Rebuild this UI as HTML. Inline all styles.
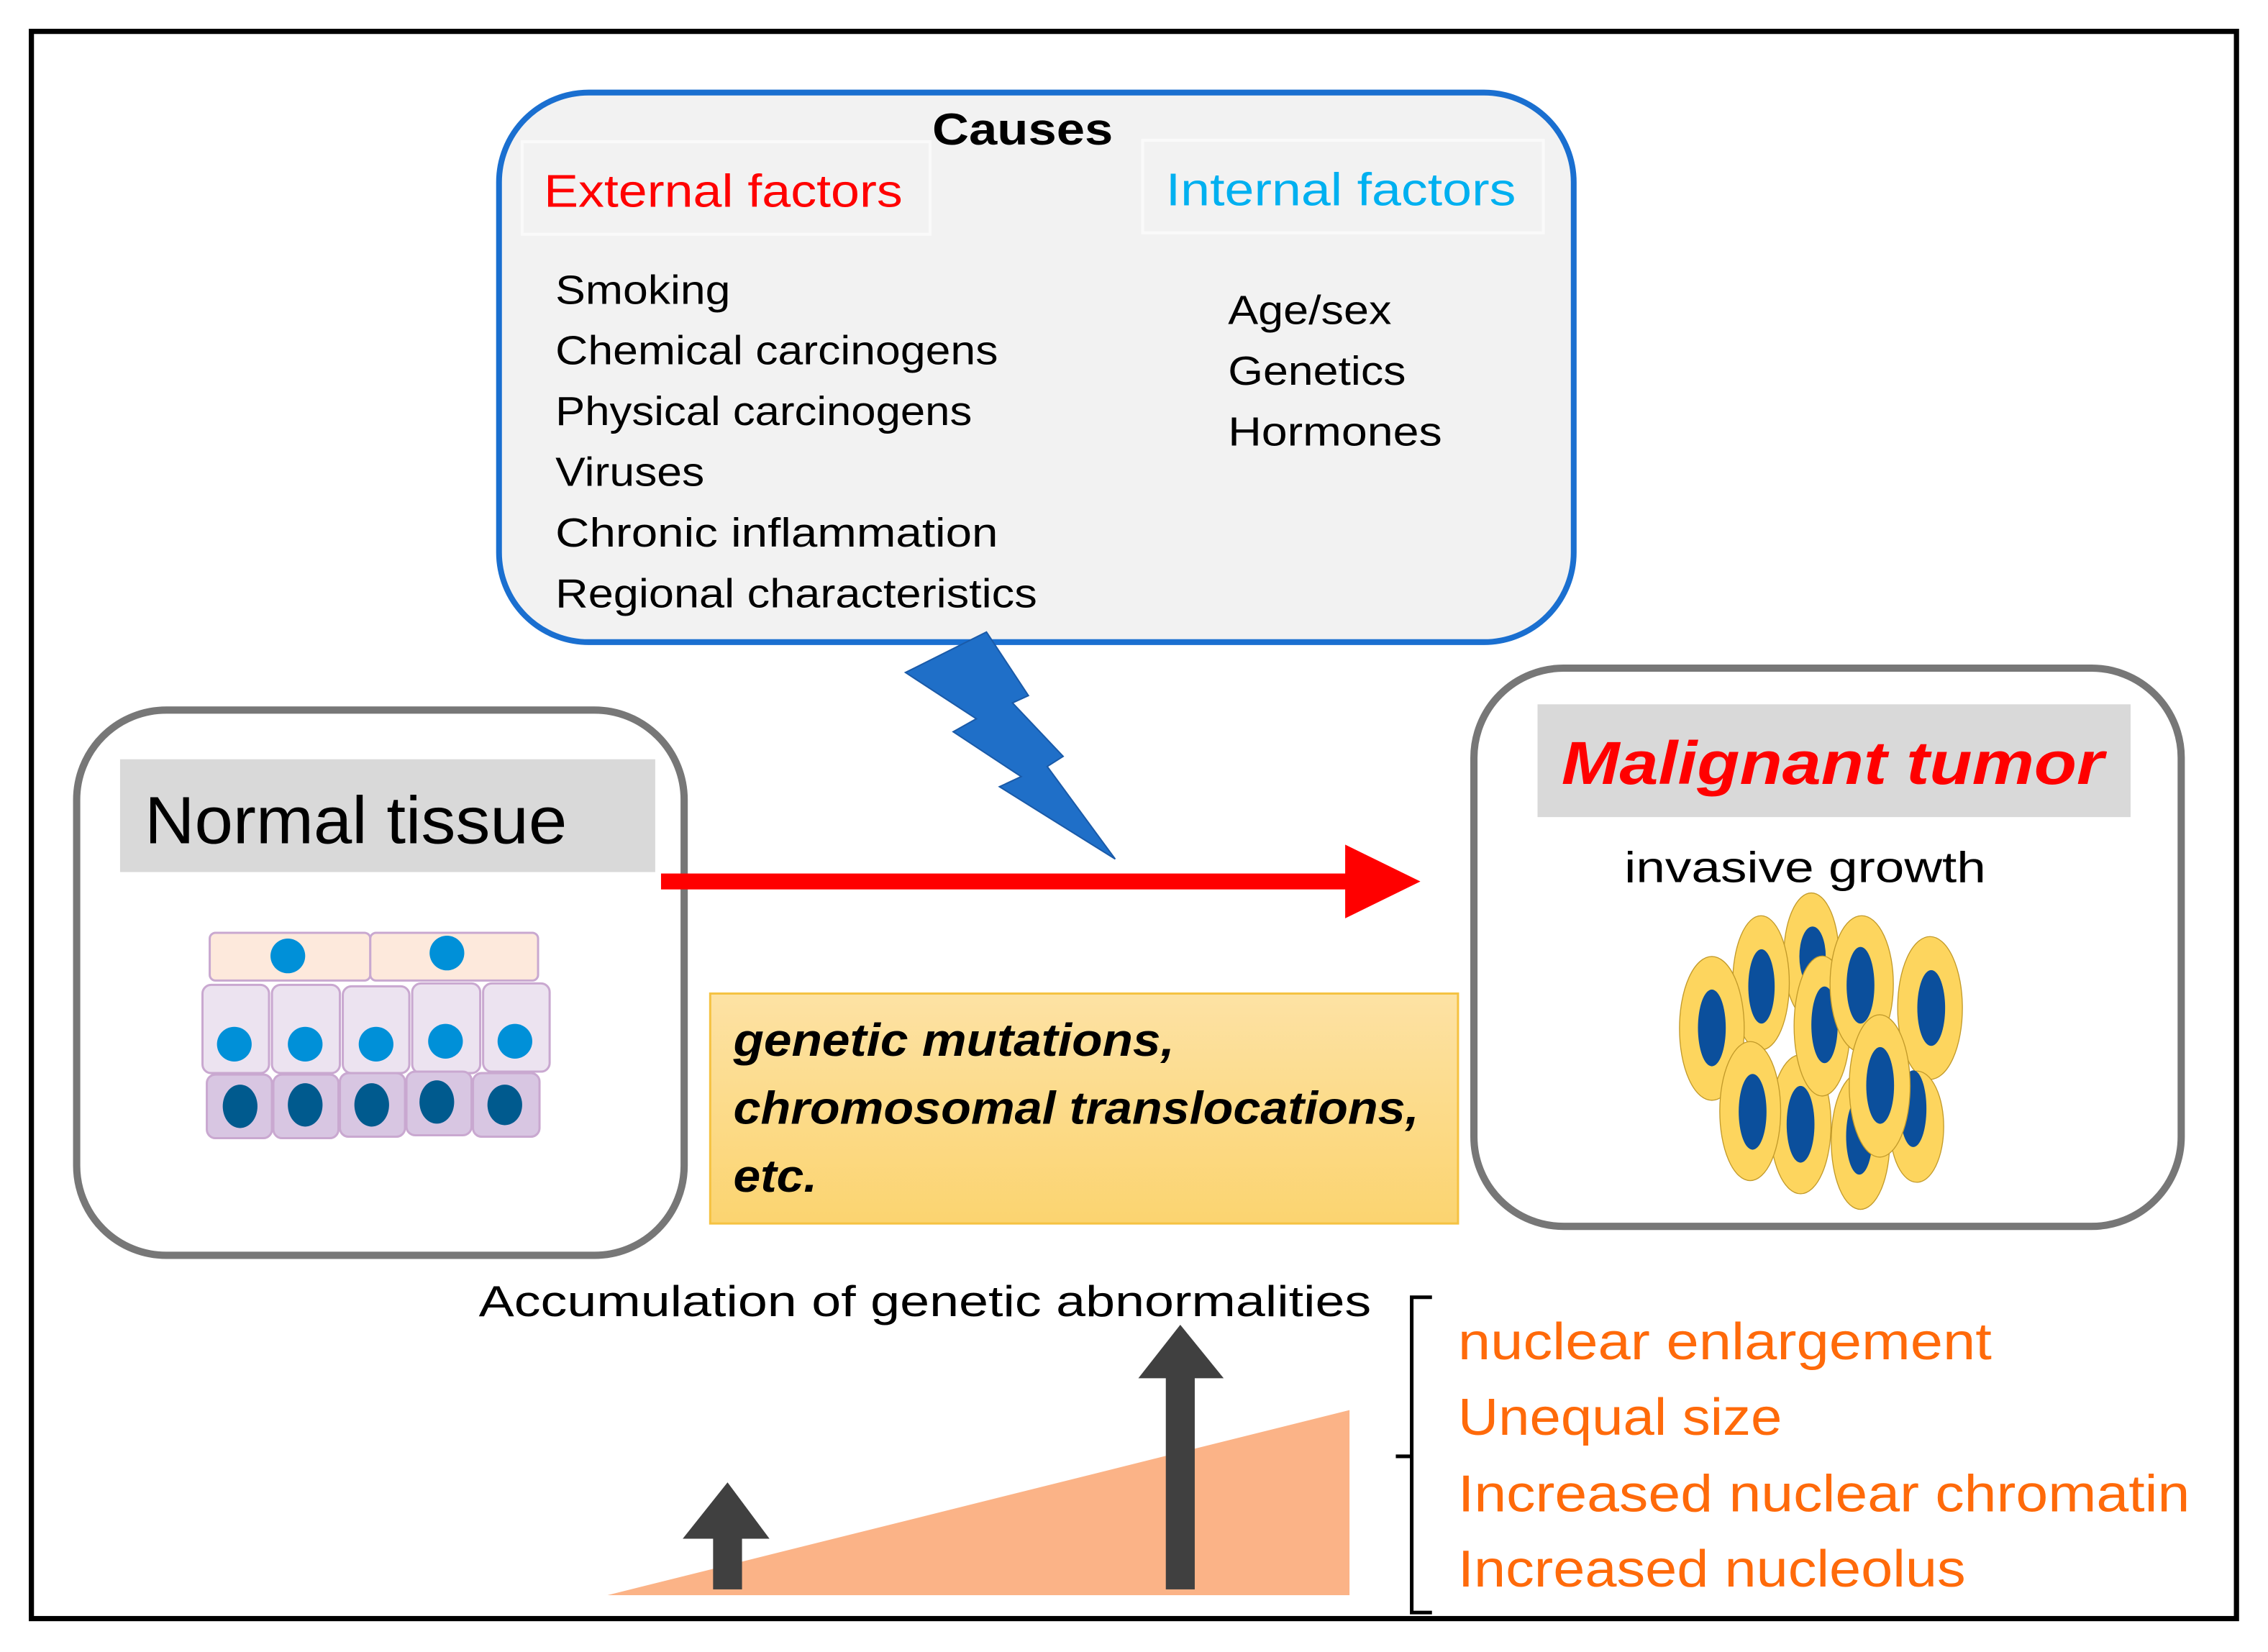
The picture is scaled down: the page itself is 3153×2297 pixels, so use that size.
<!DOCTYPE html>
<html><head><meta charset="utf-8"><style>
html,body{margin:0;padding:0;background:#fff;}
svg{display:block;}
text{font-family:"Liberation Sans",sans-serif;}
</style></head><body>
<svg width="3153" height="2297" viewBox="0 0 1568 1142.3" preserveAspectRatio="none" xmlns="http://www.w3.org/2000/svg">
<defs>
<linearGradient id="yg" x1="0" y1="0" x2="0" y2="1"><stop offset="0" stop-color="#fde2a4"/><stop offset="1" stop-color="#fbd470"/></linearGradient>
</defs>
<rect x="0" y="0" width="1568" height="1143" fill="#fff"/>
<rect x="21.7" y="21.7" width="1524.5" height="1097.5" fill="none" stroke="#000" stroke-width="3.6"/>

<!-- Causes box -->
<rect x="345" y="64" width="743" height="380" rx="62" fill="#f2f2f2" stroke="#1a6fd0" stroke-width="4"/>
<text x="707" y="100" font-size="31" font-weight="bold" text-anchor="middle" textLength="125" lengthAdjust="spacingAndGlyphs">Causes</text>
<rect x="361" y="98" width="282" height="64" fill="#f2f2f2" stroke="#fafafa" stroke-width="2"/>
<text x="376" y="143" font-size="32" fill="#ff0000" textLength="248" lengthAdjust="spacingAndGlyphs">External factors</text>
<rect x="790" y="97" width="277" height="64" fill="#f2f2f2" stroke="#fafafa" stroke-width="2"/>
<text x="806" y="142" font-size="32" fill="#00b0f0" textLength="242" lengthAdjust="spacingAndGlyphs">Internal factors</text>
<g font-size="28" fill="#000">
<text x="384" y="210" textLength="121" lengthAdjust="spacingAndGlyphs">Smoking</text>
<text x="384" y="252" textLength="306" lengthAdjust="spacingAndGlyphs">Chemical carcinogens</text>
<text x="384" y="294" textLength="288" lengthAdjust="spacingAndGlyphs">Physical carcinogens</text>
<text x="384" y="336" textLength="103" lengthAdjust="spacingAndGlyphs">Viruses</text>
<text x="384" y="378" textLength="306" lengthAdjust="spacingAndGlyphs">Chronic inflammation</text>
<text x="384" y="420" textLength="333" lengthAdjust="spacingAndGlyphs">Regional characteristics</text>
<text x="849" y="224" textLength="113" lengthAdjust="spacingAndGlyphs">Age/sex</text>
<text x="849" y="266" textLength="123" lengthAdjust="spacingAndGlyphs">Genetics</text>
<text x="849" y="308" textLength="148" lengthAdjust="spacingAndGlyphs">Hormones</text>
</g>

<!-- lightning -->
<polygon points="626,465 682,437 711,481 700,486 735,523 724,530 771,594 691,544 706,537 659,506 675,497" fill="#1f6fc8" stroke="#1a5aa8" stroke-width="1"/>

<!-- Normal tissue -->
<rect x="53" y="491" width="420" height="377" rx="62" fill="#fff" stroke="#777" stroke-width="5"/>
<rect x="83" y="525" width="370" height="78" fill="#d9d9d9"/>
<text x="100" y="583" font-size="46" textLength="292" lengthAdjust="spacingAndGlyphs">Normal tissue</text>
<g stroke="#c9a8d0" stroke-width="1.5">
<rect x="145" y="645" width="111" height="33" rx="4" fill="#fde9dc"/>
<rect x="256" y="645" width="116" height="33" rx="4" fill="#fde9dc"/>
<rect x="140" y="681" width="46" height="61" rx="6" fill="#ece3f0"/>
<rect x="188" y="681" width="47" height="61" rx="6" fill="#ece3f0"/>
<rect x="237" y="682" width="46" height="60" rx="6" fill="#ece3f0"/>
<rect x="285" y="680" width="47" height="62" rx="6" fill="#ece3f0"/>
<rect x="334" y="680" width="46" height="61" rx="6" fill="#ece3f0"/>
<rect x="143" y="743" width="45" height="44" rx="6" fill="#d8c6e2"/>
<rect x="189" y="743" width="45" height="44" rx="6" fill="#d8c6e2"/>
<rect x="235" y="742" width="45" height="44" rx="6" fill="#d8c6e2"/>
<rect x="281" y="741" width="45" height="44" rx="6" fill="#d8c6e2"/>
<rect x="327" y="742" width="46" height="44" rx="6" fill="#d8c6e2"/>
</g>
<g fill="#0090d8">
<circle cx="199" cy="661" r="12"/><circle cx="309" cy="659" r="12"/>
<circle cx="162" cy="722" r="12"/><circle cx="211" cy="722" r="12"/><circle cx="260" cy="722" r="12"/><circle cx="308" cy="720" r="12"/><circle cx="356" cy="720" r="12"/>
</g>
<g fill="#005a8e">
<ellipse cx="166" cy="765" rx="12" ry="15"/><ellipse cx="211" cy="764" rx="12" ry="15"/><ellipse cx="257" cy="764" rx="12" ry="15"/><ellipse cx="302" cy="762" rx="12" ry="15"/><ellipse cx="349" cy="764" rx="12" ry="14"/>
</g>

<!-- red arrow -->
<rect x="457" y="604" width="476" height="11" fill="#ff0000"/>
<polygon points="930,584 982,609.5 930,635" fill="#ff0000"/>

<!-- yellow box -->
<rect x="491" y="687" width="517" height="159" fill="url(#yg)" stroke="#f5c242" stroke-width="1.5"/>
<g font-size="32" font-weight="bold" font-style="italic">
<text x="507" y="730" textLength="305" lengthAdjust="spacingAndGlyphs">genetic mutations,</text>
<text x="507" y="777" textLength="474" lengthAdjust="spacingAndGlyphs">chromosomal translocations,</text>
<text x="507" y="824" textLength="58" lengthAdjust="spacingAndGlyphs">etc.</text>
</g>

<!-- Malignant tumor -->
<rect x="1019" y="462" width="489" height="386" rx="62" fill="#fff" stroke="#777" stroke-width="5"/>
<rect x="1063" y="487" width="410" height="78" fill="#d9d9d9"/>
<text x="1267" y="542" font-size="42" font-weight="bold" font-style="italic" fill="#ff0000" text-anchor="middle" textLength="375" lengthAdjust="spacingAndGlyphs">Malignant tumor</text>
<text x="1123" y="610" font-size="30" textLength="250" lengthAdjust="spacingAndGlyphs">invasive growth</text>
<g transform="scale(0.49727) translate(2300 1220) scale(0.33333)" stroke="#c29a2a" stroke-width="4">
<g><ellipse cx="655" cy="330" rx="115" ry="265" fill="#fdd55e"/><ellipse cx="660" cy="330" rx="55" ry="125" fill="#0b4f9c" stroke="none"/></g>
<g><ellipse cx="445" cy="440" rx="118" ry="280" fill="#fdd55e"/><ellipse cx="447" cy="455" rx="55" ry="155" fill="#0b4f9c" stroke="none"/></g>
<g><ellipse cx="240" cy="630" rx="135" ry="300" fill="#fdd55e"/><ellipse cx="240" cy="628" rx="58" ry="160" fill="#0b4f9c" stroke="none"/></g>
<g><ellipse cx="1150" cy="545" rx="135" ry="298" fill="#fdd55e"/><ellipse cx="1155" cy="545" rx="58" ry="158" fill="#0b4f9c" stroke="none"/></g>
<g><ellipse cx="1095" cy="1040" rx="112" ry="232" fill="#fdd55e"/><ellipse cx="1080" cy="965" rx="55" ry="160" fill="#0b4f9c" stroke="none"/></g>
<g><ellipse cx="860" cy="1100" rx="122" ry="285" fill="#fdd55e"/><ellipse cx="855" cy="1080" rx="55" ry="160" fill="#0b4f9c" stroke="none"/></g>
<g><ellipse cx="610" cy="1030" rx="127" ry="290" fill="#fdd55e"/><ellipse cx="610" cy="1030" rx="58" ry="160" fill="#0b4f9c" stroke="none"/></g>
<g><ellipse cx="400" cy="975" rx="127" ry="290" fill="#fdd55e"/><ellipse cx="410" cy="978" rx="58" ry="158" fill="#0b4f9c" stroke="none"/></g>
<g><ellipse cx="700" cy="620" rx="117" ry="292" fill="#fdd55e"/><ellipse cx="710" cy="615" rx="55" ry="160" fill="#0b4f9c" stroke="none"/></g>
<g><ellipse cx="865" cy="445" rx="132" ry="285" fill="#fdd55e"/><ellipse cx="860" cy="450" rx="58" ry="160" fill="#0b4f9c" stroke="none"/></g>
<g><ellipse cx="940" cy="870" rx="127" ry="297" fill="#fdd55e"/><ellipse cx="942" cy="868" rx="58" ry="160" fill="#0b4f9c" stroke="none"/></g>
</g>

<!-- bottom -->
<text x="331" y="910" font-size="30" textLength="617" lengthAdjust="spacingAndGlyphs">Accumulation of genetic abnormalities</text>
<polygon points="420,1103 933,975 933,1103" fill="#fbb387"/>
<rect x="493" y="1062" width="20" height="37" fill="#404040"/>
<polygon points="472,1064 503,1025 532,1064" fill="#404040"/>
<rect x="806" y="950" width="20" height="149" fill="#404040"/>
<polygon points="787,953 816,916 846,953" fill="#404040"/>
<path d="M990,897 L976,897 L976,1115 L990,1115 M965,1007 L976,1007" fill="none" stroke="#000" stroke-width="2.5"/>
<g font-size="36" fill="#ff6a0a">
<text x="1008" y="940" textLength="369" lengthAdjust="spacingAndGlyphs">nuclear enlargement</text>
<text x="1008" y="992" textLength="224" lengthAdjust="spacingAndGlyphs">Unequal size</text>
<text x="1008" y="1045" textLength="506" lengthAdjust="spacingAndGlyphs">Increased nuclear chromatin</text>
<text x="1008" y="1097" textLength="351" lengthAdjust="spacingAndGlyphs">Increased nucleolus</text>
</g>
</svg>
</body></html>
